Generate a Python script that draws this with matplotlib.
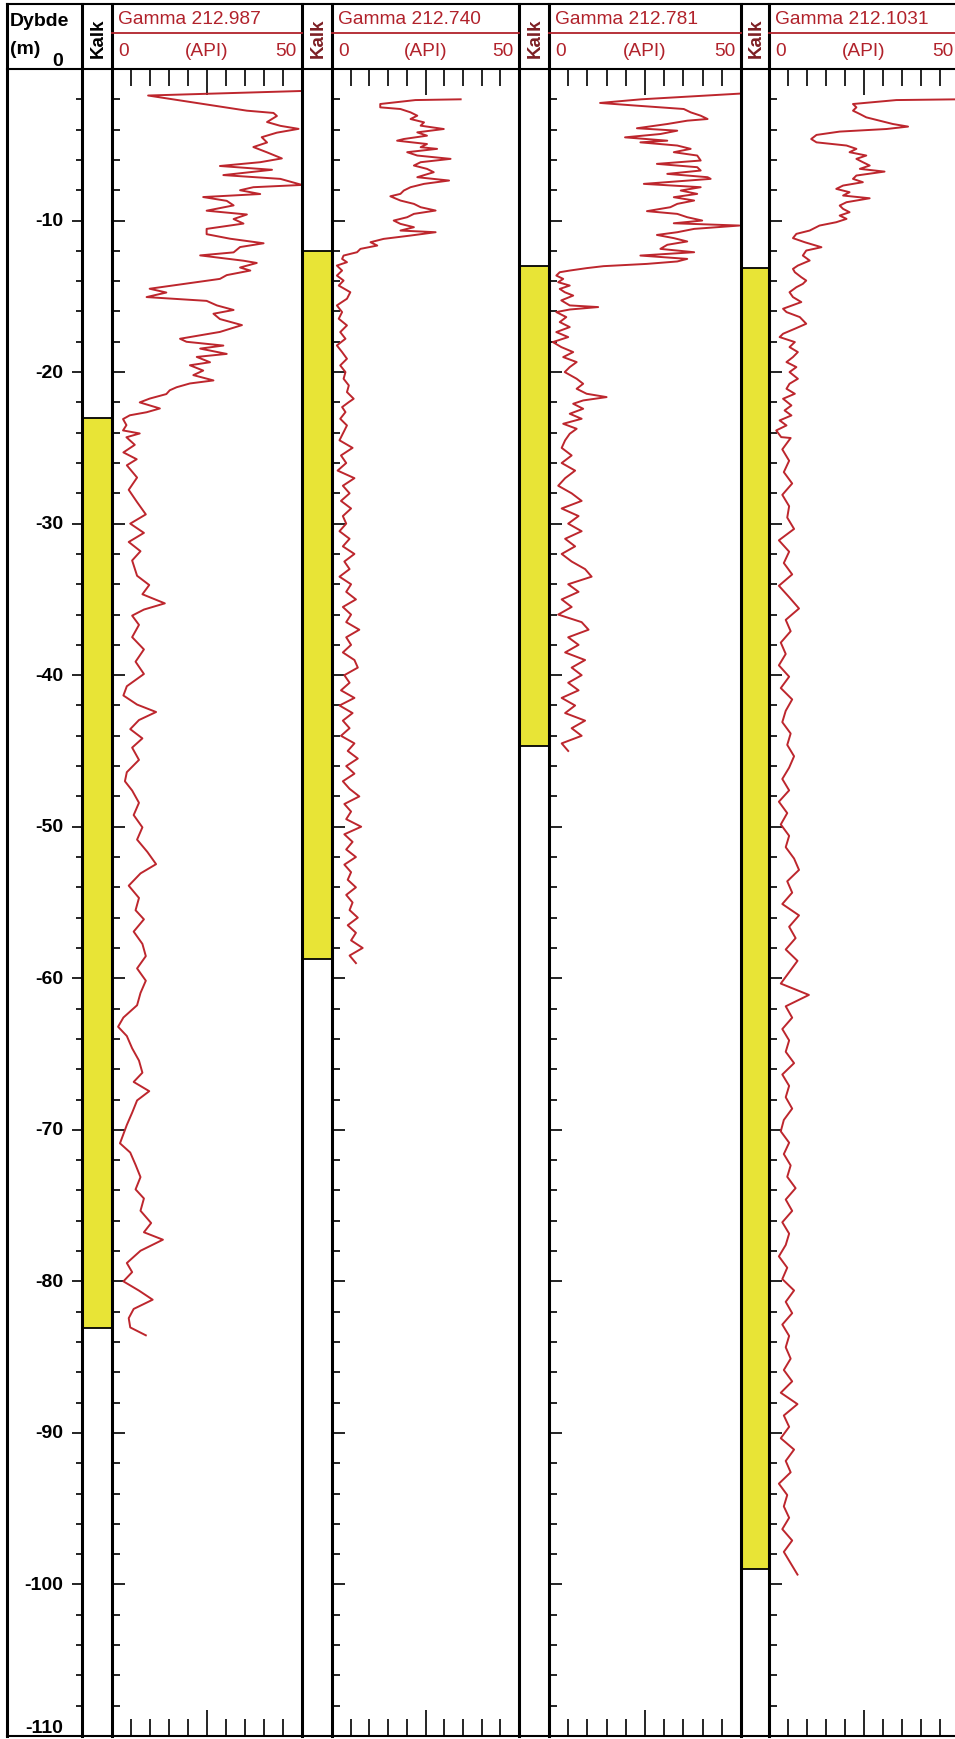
import numpy as np
import matplotlib.pyplot as plt
from matplotlib.ticker import MultipleLocator, FixedLocator

plt.rcParams['font.family'] = ['Liberation Sans', 'DejaVu Sans']

# borings and limestone (kalk) interval, m below surface
wells = ['212.987', '212.740', '212.781', '212.1031']
kalk_top = [23.0, 12.0, 13.0, 13.1]
kalk_base = [83.1, 58.7, 44.7, 99.0]
depth_labels = [0, -10, -20, -30, -40, -50, -60, -70, -80, -90, -100, -110]
api_range = (0, 50)

# gamma log 212.987 (depth m, API)
g987_depth = [1.45, 1.75, 2.75, 2.9, 3.1, 3.5, 3.75, 3.95, 4.2, 4.5,
              4.85, 5.15, 5.5, 5.9, 6.15, 6.4, 6.65, 7.0, 7.25, 7.65,
              7.8, 8.0, 8.25, 8.45, 8.7, 9.0, 9.35, 9.6, 9.9, 10.2,
              10.55, 10.9, 11.2, 11.5, 11.75, 12.1, 12.3, 12.65, 12.8, 13.1,
              13.3, 13.6, 13.85, 14.5, 14.75, 15.05, 15.3, 15.6, 15.9, 16.15,
              16.5, 16.9, 17.35, 17.8, 18.0, 18.25, 18.45, 18.8, 19.0, 19.35,
              19.55, 19.9, 20.2, 20.55, 20.75, 21.0, 21.2, 21.45, 21.75, 22.0,
              22.4, 22.65, 22.85, 23.1, 23.5, 23.85, 24.05, 24.3,
              24.8, 25.3, 25.75, 26.15, 26.96, 27.77, 28.58, 29.39, 30.0, 30.61,
              31.21, 31.82, 32.43, 33.44, 34.05, 34.66, 35.26, 35.67, 36.07, 36.68,
              37.49, 38.3, 39.11, 39.92, 40.73, 41.34, 41.94, 42.43, 42.96, 43.56,
              44.17, 44.78, 45.59, 46.4, 47.0, 47.61, 48.42, 49.23, 50.04, 50.85,
              51.66, 52.47, 53.08, 53.89, 54.7, 55.51, 56.11, 56.92, 57.73, 58.54,
              59.35, 60.16, 60.97, 61.78, 62.59, 63.2, 63.81, 64.62, 65.43, 66.23,
              66.84, 67.45, 68.06, 68.87, 69.68, 70.28, 70.89, 71.5, 72.31, 73.12,
              73.93, 74.53, 75.34, 76.15, 76.76, 77.25, 77.98, 78.79, 79.39, 80.0,
              80.61, 81.21, 81.82, 82.43, 83.04, 83.56]
g987_api = [50, 9.5, 35.5, 42.5, 43.4, 40.8, 44.3, 49.1, 43.4, 39.4,
            40.8, 37.2, 40.8, 44.7, 39.0, 28.4, 42.1, 29.3, 44.3, 50.0,
            37.2, 33.7, 39.0, 24.0, 30.2, 32.0, 24.9, 35.5, 32.0, 34.6,
            24.9, 24.9, 31.1, 39.9, 33.7, 32.0, 23.2, 34.6, 38.1, 33.7,
            36.4, 30.2, 28.4, 9.9, 14.3, 9.1, 24.9, 27.6, 32.0, 26.7,
            28.4, 34.2, 28.4, 17.9, 19.6, 29.3, 23.2, 30.2, 22.3, 25.8,
            20.5, 24.0, 21.4, 26.7, 20.5, 17.0, 15.2, 14.3, 9.9, 7.3,
            12.6, 9.1, 4.7, 2.9, 3.8, 2.9, 7.3, 3.8,
            6.0, 3.0, 6.5, 3.9, 6.6, 4.4, 6.6, 8.9, 4.8, 8.4,
            4.4, 7.5, 5.3, 6.6, 9.8, 8.0, 13.9, 8.4, 5.3, 7.1,
            5.3, 8.4, 6.2, 8.4, 3.9, 3.0, 6.6, 11.6, 7.1, 4.8,
            8.0, 5.3, 7.1, 3.9, 3.4, 5.3, 7.1, 5.7, 8.0, 6.6,
            9.3, 11.6, 7.5, 4.4, 7.1, 6.2, 8.4, 5.7, 8.0, 8.9,
            6.6, 8.9, 7.5, 6.6, 3.0, 1.6, 3.9, 5.3, 7.1, 8.0,
            5.7, 9.8, 6.6, 5.3, 3.9, 3.0, 2.1, 4.8, 6.2, 7.5,
            6.2, 8.4, 7.5, 10.3, 8.4, 13.4, 7.5, 3.9, 5.3, 3.0,
            7.1, 10.7, 5.7, 4.4, 4.8, 8.9]

# gamma log 212.740
g740_depth = [2.0, 2.05, 2.31, 2.53, 2.64, 2.86, 3.08, 3.3, 3.52, 3.74,
              3.96, 4.18, 4.4, 4.62, 4.73, 4.95, 5.16, 5.27, 5.49, 5.71,
              5.93, 6.15, 6.37, 6.59, 6.81, 7.14, 7.36, 7.58, 7.8, 8.02,
              8.24, 8.4, 8.68, 8.9, 9.12, 9.34, 9.56, 9.78, 10.0, 10.22,
              10.44, 10.66, 10.77, 10.99, 11.21, 11.43, 11.65, 11.87, 12.09, 12.31,
              12.53, 12.75, 12.97, 13.3, 13.63, 13.96, 14.29, 14.73, 15.16, 15.6,
              16.04, 16.48, 16.92, 17.36, 17.8, 18.24, 18.68, 19.12, 19.56, 20.0,
              20.44, 20.88, 21.32, 21.76, 21.98, 22.31, 22.64, 23.08, 23.52, 23.96]
g740_depth += list(np.arange(24.5, 59.01, 0.5))
g740_api = [34.4, 22.3, 12.9, 12.9, 18.3, 21.0, 22.8, 21.0, 24.6, 23.7,
            29.9, 22.8, 25.4, 19.2, 17.4, 25.4, 23.7, 28.1, 20.1, 22.8,
            31.7, 23.7, 21.9, 25.4, 27.2, 22.8, 31.3, 24.6, 21.0, 19.2,
            18.3, 15.6, 18.3, 21.9, 23.7, 27.7, 21.9, 20.1, 16.5, 18.3,
            21.9, 18.3, 27.7, 21.0, 13.8, 10.3, 12.1, 7.6, 6.7, 3.1,
            2.7, 4.0, 1.3, 2.7, 1.3, 3.1, 1.8, 4.9, 4.0, 1.3,
            2.7, 1.8, 4.0, 2.2, 3.6, 1.3, 2.7, 4.0, 2.2, 3.6,
            3.1, 4.5, 4.0, 5.8, 4.5, 2.7, 3.6, 2.2, 4.0, 3.1,
            2.0, 5.5, 2.4, 3.8, 1.5, 6.0, 2.9, 4.7, 2.4, 5.1,
            2.9, 3.8, 2.0, 4.7, 2.9, 6.0, 3.3, 4.7, 2.0, 5.1,
            3.8, 6.4, 2.9, 5.1, 3.8, 7.3, 3.8, 5.1, 2.9, 6.0,
            6.9, 3.3, 4.7, 2.4, 6.0, 2.0, 5.5, 2.9, 4.7, 2.4,
            6.0, 4.2, 6.9, 3.8, 6.0, 2.9, 4.7, 7.3, 3.3, 5.1,
            3.8, 7.8, 3.3, 5.5, 3.8, 6.4, 3.3, 5.1, 4.2, 6.4,
            3.8, 5.5, 4.7, 6.9, 4.2, 6.4, 5.1, 8.2, 4.7, 6.4]

# gamma log 212.781
g781_depth = [1.62, 2.0, 2.24, 2.42, 2.64, 2.86, 3.08, 3.3, 3.41, 3.63,
              3.91, 4.07, 4.29, 4.51, 4.73, 4.84, 5.05, 5.27, 5.49, 5.71,
              6.04, 6.26, 6.48, 6.7, 6.92, 7.14, 7.25, 7.58, 7.8, 8.02,
              8.24, 8.46, 8.68, 8.9, 9.12, 9.38, 9.56, 9.78, 10.0, 10.18,
              10.33, 10.55, 10.77, 10.95, 11.16, 11.38, 11.6, 11.87, 12.09, 12.31,
              12.53, 12.7, 12.86, 13.01, 13.14, 13.3, 13.41, 13.63, 13.85, 14.07,
              14.29, 14.51, 14.73, 14.95, 15.27, 15.6, 15.71, 15.87, 16.04, 16.37,
              16.7, 17.03, 17.36, 17.69, 18.02, 18.35, 18.68, 19.01, 19.34, 19.67,
              20.0, 20.44, 20.77, 21.1, 21.43, 21.65, 21.87, 22.09, 22.42, 22.75,
              23.08, 23.41, 23.74, 24.07]
g781_depth += list(np.arange(24.5, 45.01, 0.5))
g781_api = [50, 24.0, 13.3, 22.9, 35.1, 36.9, 39.5, 41.3, 36.0, 30.8,
            22.9, 33.4, 29.0, 19.8, 30.8, 23.8, 33.4, 36.9, 32.5, 38.6,
            39.5, 28.1, 38.6, 39.5, 30.8, 41.3, 42.1, 24.7, 39.5, 34.3,
            38.6, 32.5, 37.8, 33.4, 31.6, 25.5, 33.4, 36.0, 39.9, 32.5,
            49.6, 37.8, 33.4, 28.1, 32.5, 36.0, 30.8, 29.0, 37.8, 23.8,
            36.0, 33.4, 25.5, 14.2, 9.8, 5.4, 2.8, 1.9, 3.7, 2.4,
            5.4, 2.8, 4.1, 6.3, 3.2, 5.4, 12.8, 5.4, 1.9, 4.5,
            2.8, 5.4, 1.9, 5.0, 1.0, 3.2, 6.3, 3.7, 7.2, 5.4,
            4.1, 7.2, 8.9, 7.2, 9.8, 15.0, 8.9, 6.3, 8.9, 5.4,
            8.5, 3.7, 7.2, 5.4,
            4.2, 3.3, 5.9, 3.3, 6.8, 4.2, 2.4, 5.9, 8.5, 3.3,
            7.7, 5.0, 8.5, 4.2, 6.8, 3.3, 5.9, 9.4, 11.1, 5.0,
            7.7, 3.3, 5.9, 2.4, 8.5, 10.3, 5.0, 7.7, 4.2, 9.4,
            5.9, 8.5, 5.0, 7.7, 3.3, 6.8, 4.2, 9.4, 5.9, 8.5,
            3.3, 5.0]

# gamma log 212.1031
g1031_depth = [2.0, 2.05, 2.31, 2.53, 2.75, 2.97, 3.19, 3.41, 3.63, 3.8,
               3.96, 4.13, 4.35, 4.62, 4.84, 5.05, 5.27, 5.49, 5.71, 5.93,
               6.15, 6.37, 6.59, 6.77, 7.03, 7.25, 7.47, 7.69, 7.91, 8.13,
               8.35, 8.53, 8.79, 9.01, 9.23, 9.45, 9.67, 9.89, 10.11, 10.33,
               10.66, 10.88, 11.16, 11.43, 11.76, 11.98, 12.31, 12.64, 12.97, 13.19,
               13.41, 13.74, 13.96, 14.18, 14.4, 14.73, 15.05, 15.38, 15.82, 16.04,
               16.37, 16.81, 17.14, 17.47, 17.69, 18.02, 18.35, 18.68, 19.01, 19.34,
               19.67, 20.0, 20.44, 20.77, 21.1, 21.43, 21.76, 22.2, 22.53, 22.86,
               23.19, 23.52, 23.85, 24.29]
g1031_depth += list(np.arange(24.35, 99.36, 0.75))
g1031_api = [50, 33.5, 22.1, 23.0, 22.1, 23.9, 25.6, 29.1, 32.6, 36.6,
             30.9, 18.6, 12.5, 11.1, 12.5, 20.4, 23.0, 21.2, 25.6, 23.0,
             24.7, 26.5, 23.9, 30.4, 23.0, 22.1, 24.7, 19.5, 17.7, 21.2,
             19.5, 26.5, 20.4, 18.6, 19.5, 21.2, 18.6, 20.4, 17.7, 13.3,
             10.7, 7.2, 6.3, 9.4, 13.8, 9.8, 8.9, 10.7, 7.6, 6.3,
             6.8, 8.5, 9.8, 8.9, 7.2, 5.4, 6.3, 8.5, 3.7, 4.6,
             8.1, 9.8, 6.8, 3.7, 2.8, 6.8, 5.4, 7.6, 6.3, 4.6,
             7.2, 5.4, 7.6, 5.4, 4.6, 6.8, 3.7, 5.9, 4.1, 5.9,
             2.8, 4.6, 1.9, 3.2,
             5.7, 3.5, 5.3, 3.9, 6.1, 3.5, 5.3, 4.8, 6.6, 2.6,
             5.3, 3.9, 6.1, 2.6, 5.3, 7.9, 4.4, 5.7, 3.1, 4.4,
             2.6, 5.3, 3.1, 6.1, 4.4, 3.5, 5.7, 4.8, 6.6, 5.3,
             3.5, 5.3, 2.6, 4.8, 3.1, 5.3, 4.4, 6.6, 7.9, 4.8,
             6.1, 3.5, 7.9, 5.3, 7.0, 4.4, 7.5, 5.3, 3.1, 10.5,
             4.4, 6.1, 3.5, 5.3, 4.4, 6.6, 3.5, 5.3, 4.4, 6.1,
             3.9, 3.1, 5.3, 3.9, 5.7, 4.8, 7.0, 4.4, 6.1, 3.5,
             5.3, 4.4, 2.6, 4.8, 3.5, 6.6, 4.4, 6.1, 3.5, 5.3,
             4.4, 5.7, 3.9, 6.1, 3.1, 7.5, 3.9, 5.3, 3.1, 6.6,
             4.4, 5.7, 2.6, 4.8, 3.9, 5.3, 3.5, 6.1, 3.9, 5.7,
             7.5]

gamma_depth = [g987_depth, g740_depth, g781_depth, g1031_depth]
gamma_api = [g987_api, g740_api, g781_api, g1031_api]

RED = '#bd262d'
HRED = '#b1222b'
YELLOW = '#e8e436'

# layout in pixels
W, H = 955, 1740
TOP, HEAD, BOT = 5, 70, 1737
DX0, DX1 = 7, 82
kalk_x = [82, 302, 519, 741]
gamma_x = [112, 332, 549, 769]
gamma_r = [302, 519, 741, 959]

fig = plt.figure(figsize=(W / 100, H / 100), dpi=100)


def px_axes(x0, x1):
    a = fig.add_axes([x0 / W, 1 - BOT / H, (x1 - x0) / W, (BOT - HEAD) / H])
    a.set_ylim(-110, 0)
    a.patch.set_alpha(0)
    for s in a.spines.values():
        s.set_visible(False)
    return a


# depth column
ax = px_axes(DX0, DX1)
ax.set_xlim(0, 1)
ax.set_xticks([])
ax.yaxis.set_major_locator(MultipleLocator(10))
ax.yaxis.set_minor_locator(MultipleLocator(2))
ax.tick_params(axis='y', which='both', direction='in', left=False, right=True,
               labelleft=False, labelright=False, width=1.2)
ax.tick_params(axis='y', which='major', length=7.5)
ax.tick_params(axis='y', which='minor', length=4.5)
for d in depth_labels:
    va = 'bottom' if d in (0, -110) else 'center'
    ax.text(0.75, d, str(d), transform=ax.get_yaxis_transform(), ha='right',
            va=va, fontsize=14, fontweight='bold')

for i, w in enumerate(wells):
    # kalk column
    k = px_axes(kalk_x[i], gamma_x[i])
    k.set_xlim(0, 1)
    k.set_xticks([])
    k.set_yticks([])
    k.axhspan(-kalk_base[i], -kalk_top[i], facecolor=YELLOW, edgecolor='black', lw=1.3)

    # gamma track
    g = px_axes(gamma_x[i], gamma_r[i])
    g.set_xlim(*api_range)
    g.plot(gamma_api[i], -np.array(gamma_depth[i]), color=RED, lw=1.4)
    g.yaxis.set_major_locator(MultipleLocator(10))
    g.yaxis.set_minor_locator(MultipleLocator(2))
    g.tick_params(axis='y', which='both', direction='in', left=True, right=False,
                  labelleft=False, width=1.2)
    g.tick_params(axis='y', which='major', length=9)
    g.tick_params(axis='y', which='minor', length=5.5)
    g.xaxis.set_major_locator(FixedLocator([25]))
    g.xaxis.set_minor_locator(MultipleLocator(5))
    g.tick_params(axis='x', which='both', direction='in', top=True, bottom=True,
                  labelbottom=False, width=1.2)
    g.tick_params(axis='x', which='major', length=19)
    g.tick_params(axis='x', which='minor', length=12.5)

# frame and header on top
fr = fig.add_axes([0, 0, 1, 1])
fr.set_xlim(0, W)
fr.set_ylim(H, 0)
fr.axis('off')
fr.patch.set_alpha(0)
for y in (TOP, HEAD, BOT):
    fr.plot([DX0, W], [y, y], color='black', lw=1.5, clip_on=False)
for x in [DX0, DX1] + kalk_x[1:] + gamma_x:
    fr.plot([x, x], [TOP, BOT], color='black', lw=2.2, clip_on=False)

fr.text(10, 22, 'Dybde', fontsize=14, fontweight='bold', ha='left', va='center')
fr.text(10, 50, '(m)', fontsize=14, fontweight='bold', ha='left', va='center')
for i, w in enumerate(wells):
    kx = (kalk_x[i] + gamma_x[i]) / 2 + 1
    fr.text(kx, 38, 'Kalk', rotation=90, fontsize=13.5, fontweight='bold',
            color='black' if i == 0 else '#7d1f24', ha='center', va='center')
    x0, x1 = gamma_x[i], gamma_r[i]
    fr.plot([x0, x1], [34, 34], color=HRED, lw=1.3)
    fr.text(x0 + 6, 20, 'Gamma ' + w, color=HRED, fontsize=13.8, ha='left', va='center')
    fr.text(x0 + 6, 51, str(api_range[0]), color=HRED, fontsize=13.8, ha='left', va='center')
    fr.text((x0 + x1) / 2, 51, '(API)', color=HRED, fontsize=13.8, ha='center', va='center')
    fr.text(x1 - 6, 51, str(api_range[1]), color=HRED, fontsize=13.8, ha='right', va='center')

fig.savefig('out.png', dpi=100, facecolor='white')
